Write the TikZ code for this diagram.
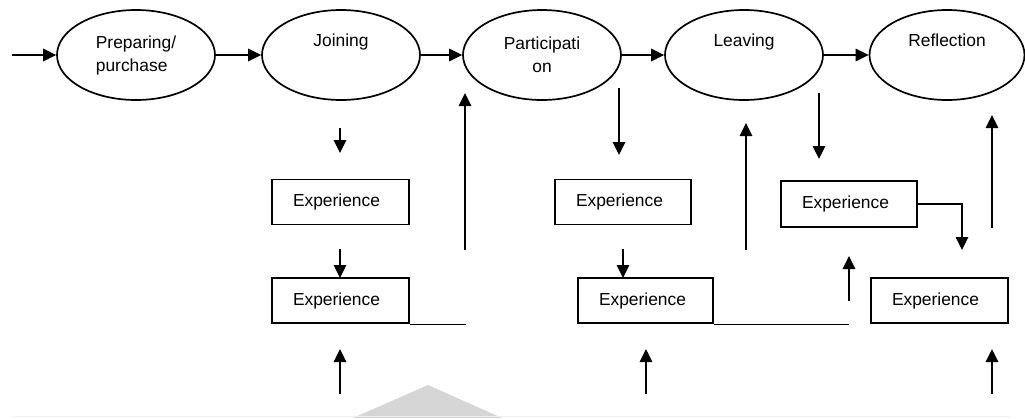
\documentclass[tikz,border=0pt]{standalone}
\usepackage{fontspec}
\setmainfont{Liberation Sans}
\usetikzlibrary{arrows.meta,shapes.geometric}
\definecolor{markgrey}{HTML}{D6D6D6}
\definecolor{rulegrey}{HTML}{EFEFEF}
\begin{document}
\begin{tikzpicture}[x=1pt,y=-1pt,
  every node/.style={font=\fontsize{17.4}{23}\selectfont},
  stage/.style={ellipse,draw,line width=1.7pt,minimum width=158pt,minimum height=90pt,inner sep=0pt,align=center},
  expbox/.style={rectangle,draw,line width=1.7pt,minimum height=45pt,inner ysep=0pt,
                 inner xsep=21pt,text width=95pt,align=left},
  flow/.style={line width=1.7pt,-{Triangle[length=13pt,width=12.5pt]}},
  plain/.style={line width=1.7pt}]
\useasboundingbox (0,0) rectangle (1025,418);

% faint mark and rule along the bottom edge
\fill[markgrey] (353,418) -- (428,385) -- (502,418) -- cycle;
\draw[rulegrey,line width=1pt] (13,416.5) -- (1010,416.5);

% stages
\node[stage,align=left] (prep) at (136,55) {Preparing/\\purchase};
\node[stage] (join) at (341,55) {Joining\\\strut};
\node[stage] (part) at (542,55) {Participati\\on};
\node[stage] (leave) at (744,55) {Leaving\\\strut};
\node[stage,minimum width=155pt] (refl) at (947,55) {Reflection\\\strut};

% experience boxes
\node[expbox] (a1) at (340.5,202) {Experience};
\node[expbox] (a2) at (340.5,300.5) {Experience};
\node[expbox,text width=94pt] (b1) at (623,202) {Experience};
\node[expbox,text width=93pt] (b2) at (645.5,300.5) {Experience};
\node[expbox,text width=94pt,minimum height=46pt] (c1) at (849,204) {Experience};
\node[expbox] (c2) at (939.5,300.5) {Experience};

% free ends of connectors
\coordinate (in) at (12,55);
\coordinate (a0s) at (340,128);  \coordinate (a0e) at (340,153);
\coordinate (a12s) at (340,249); \coordinate (a12e) at (340,278);
\coordinate (a3s) at (340,394);  \coordinate (a3e) at (340,349);
\coordinate (a2r) at (466,324.5);
\coordinate (aups) at (465,250); \coordinate (aupe) at (465,93);
\coordinate (b0s) at (619,88);   \coordinate (b0e) at (619,155);
\coordinate (b12s) at (623,249); \coordinate (b12e) at (623,278);
\coordinate (b3s) at (646,394);  \coordinate (b3e) at (646,349);
\coordinate (b2r) at (849,324.5);
\coordinate (bups) at (746,250); \coordinate (bupe) at (746,123);
\coordinate (c0s) at (819,93);   \coordinate (c0e) at (819,159);
\coordinate (ck) at (962,204);   \coordinate (cke) at (962,250);
\coordinate (cms) at (849,301);  \coordinate (cme) at (849,256);
\coordinate (c3s) at (992,394);  \coordinate (c3e) at (992,349);
\coordinate (cups) at (992,228); \coordinate (cupe) at (992,115);

% main sequence
\draw[flow] (in) -- (prep.west);
\draw[flow] (prep.east) -- (join.west);
\draw[flow] (join.east) -- (part.west);
\draw[flow] (part.east) -- (leave.west);
\draw[flow] (leave.east) -- (refl.west);

% joining column
\draw[flow] (a0s) -- (a0e);
\draw[flow] (a12s) -- (a12e);
\draw[flow] (a3s) -- (a3e);
\draw[plain] (a2.south east |- a2r) -- (a2r);
\draw[flow] (aups) -- (aupe);

% participation column
\draw[flow] (b0s) -- (b0e);
\draw[flow] (b12s) -- (b12e);
\draw[flow] (b3s) -- (b3e);
\draw[plain] (b2.south east |- b2r) -- (b2r);
\draw[flow] (bups) -- (bupe);

% leaving column
\draw[flow] (c0s) -- (c0e);
\draw[flow] (c1.east) -- (ck) -- (cke);
\draw[flow] (cms) -- (cme);
\draw[flow] (c3s) -- (c3e);
\draw[flow] (cups) -- (cupe);
\end{tikzpicture}
\end{document}
